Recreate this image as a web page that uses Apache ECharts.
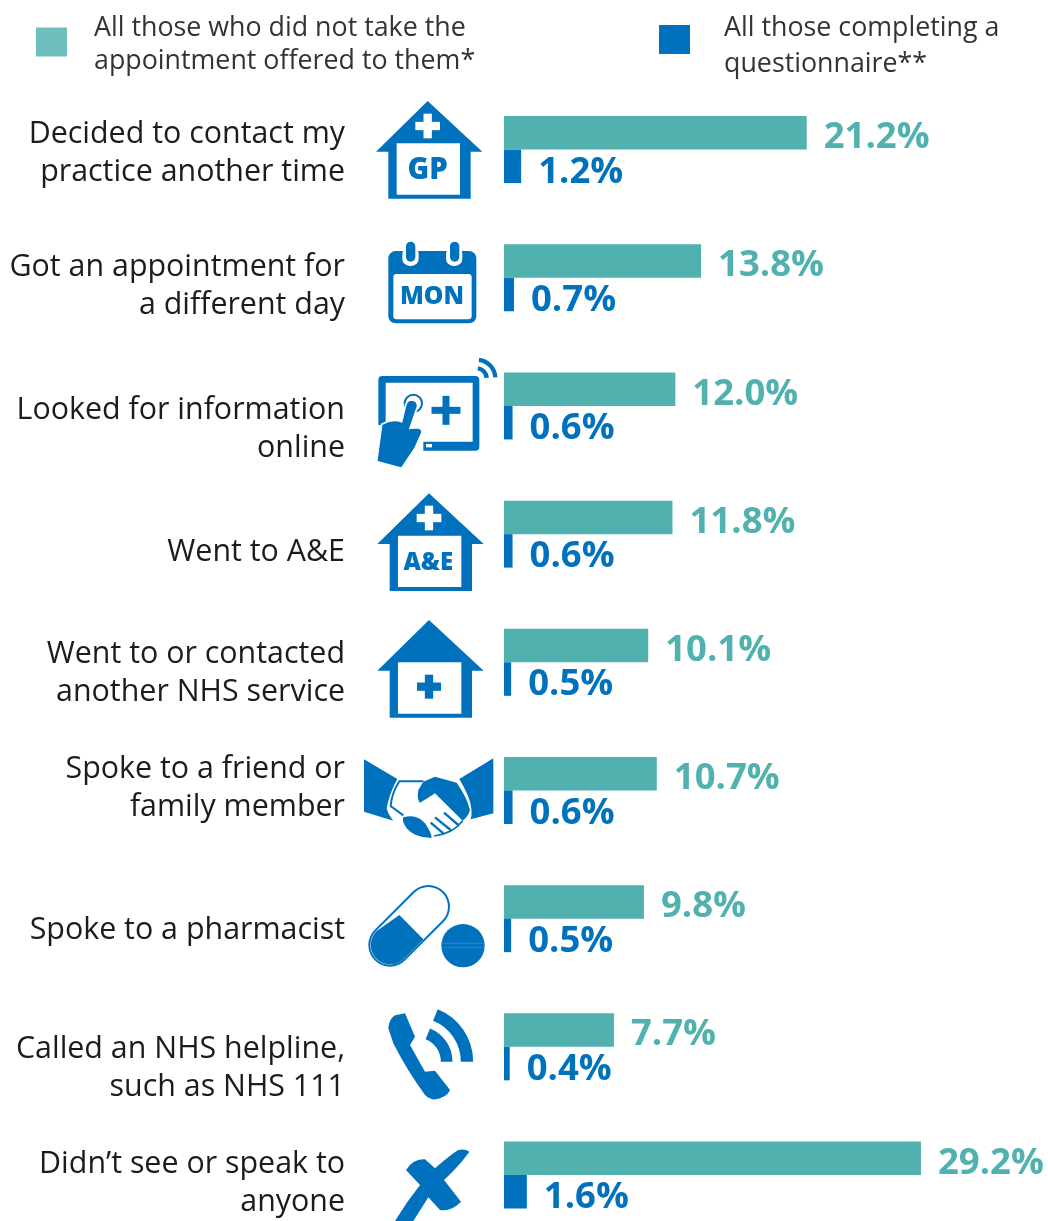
<!DOCTYPE html>
<html><head><meta charset="utf-8">
<style>html,body{margin:0;padding:0;background:#fff}#c{width:1048px;height:1221px}</style>
<script src="https://cdn.jsdelivr.net/npm/echarts@6/dist/echarts.min.js"></script>
</head><body><div id="c"></div>
<script>
const categories = [
 'Decided to contact my\npractice another time',
 'Got an appointment for\na different day',
 'Looked for information\nonline',
 'Went to A&E',
 'Went to or contacted\nanother NHS service',
 'Spoke to a friend or\nfamily member',
 'Spoke to a pharmacist',
 'Called an NHS helpline,\nsuch as NHS 111',
 'Didn\u2019t see or speak to\nanyone'
];
const declined = [21.2,13.8,12.0,11.8,10.1,10.7,9.8,7.7,29.2];
const allRespondents = [1.2,0.7,0.6,0.6,0.5,0.6,0.5,0.4,1.6];
const seriesNames = ['All those who did not take the appointment offered to them*','All those completing a questionnaire**'];
const legendText = ['All those who did not take the\nappointment offered to them*','All those completing a\nquestionnaire**'];
const labelShift = [3.5,8.5,23.5,18,11,-2,11.5,21.5,8];

const BLUE='#0071BC', TEAL='#50B1AF', LEG='#6FBFBF', INK='#1c1c1c';
const FONT='"Open Sans", "Noto Sans", sans-serif';
const LABEL_SIZE=30.4, LABEL_LH=38;

let pathCount=0;
function shapeOf(d){const n='icon'+(pathCount++);echarts.graphic.registerShape(n,echarts.graphic.extendPath(d,{}));return n;}
function p(d,fill,extra){return Object.assign({type:shapeOf(d),style:{fill:fill||BLUE}},extra||{});}
function ln(d,w,color,cap){return {type:shapeOf(d),style:{fill:'none',stroke:color||BLUE,lineWidth:w,lineCap:cap||'butt'}};}
function rr(x,y,w,h,r,fill){return {type:'rect',shape:{x,y,width:w,height:h,r},style:{fill:fill||BLUE}};}
function t(s,x,y,size,weight,family){return {type:'text',x,y,style:{text:s,fill:BLUE,font:(weight||800)+' '+size+'px '+(family||FONT),textAlign:'center',textVerticalAlign:'middle'}};}
function crossAt(cx,cy,span,th,fill){return [rr(cx-span/2,cy-th/2,span,th,0,fill),rr(cx-th/2,cy-span/2,th,span,0,fill)];}
function house(ax,ay){
 return [p(`M${ax},${ay} L${ax+164},${ay+152} L${ax+129},${ay+152} L${ax+129},${ay+293} L${ax-118},${ay+293} L${ax-118},${ay+152} L${ax-155},${ay+152} Z`),
   rr(ax-93,ay+127,190,154,0,'#fff')];
}
const A=[...house(203,33),...crossAt(203,108,74,25,'#fff'),t('GP',203,241,88,800),
 rr(85,483,264,217,22),rr(100,552,235,136,10,'#fff'),
 rr(127,470,49,58,22,'#fff'),rr(258,470,49,58,22,'#fff'),rr(138,455,28,60,14),rr(270,455,28,60,14),
 t('MON',216,620,74,800),
 rr(55,858,303,224,12),rr(77,878,261,177,0,'#fff'),...crossAt(258,961,87,21),rr(198,1062,18,10,0,'#fff'),
 {type:'arc',shape:{cx:350,cy:865,r:30,startAngle:-1.45,endAngle:-0.05},style:{fill:'none',stroke:BLUE,lineWidth:13}},
 {type:'arc',shape:{cx:350,cy:865,r:56,startAngle:-1.45,endAngle:-0.05},style:{fill:'none',stroke:BLUE,lineWidth:13}},
 rr(30,1005,160,80,0,'#fff'),
 {type:'circle',shape:{cx:160,cy:940,r:26},style:{fill:'#fff',stroke:BLUE,lineWidth:6}},
 p('M137,945 Q142,930 155,930 Q173,932 173,948 L150,1015 L170,1013 Q190,1015 185,1030 L165,1075 L125,1135 L50,1115 L65,1003 Q95,985 125,995 Z',BLUE,{style:{fill:BLUE,stroke:'#fff',lineWidth:5}})
];
const B=[...house(207,40),...crossAt(207,114,74,25,'#fff'),t('A&E',205,250,72,800),
 ...house(207,420),...crossAt(207,620,72,25),
 p('M12,838 L112,897 Q88,940 80,985 Q85,1005 100,1022 L12,995 Z'),
 p('M400,835 L400,1000 L332,1018 Q340,990 325,950 Q312,920 298,897 Z'),
 p('M190,905 L225,890 L290,908 Q320,950 330,990 Q325,1010 308,1022 L225,940 Q195,960 180,968 Q170,960 175,930 Z'),
 ln('M190,904 L118,904 Q95,940 92,978 L130,1006',6),
 ln('M225,1012 L272,1050',7),ln('M252,998 L295,1035',7),ln('M212,1028 L250,1060',7),
 ln('M222,1068 Q280,1060 308,1022',5),
 p('M130,1012 Q170,1000 195,1030 Q215,1060 215,1073 Q165,1075 140,1045 Q125,1025 130,1012 Z')
];
const C=[
 ln('M90,255 L205,140',130,BLUE,'round'),ln('M90,255 L205,140',118,'#fff','round'),
 p('M118,165 L190,238 L132,296 A58,58 0 0 1 49,214 Z'),
 {type:'circle',shape:{cx:309,cy:257,r:65},style:{fill:BLUE}},
 ln('M244,250 L374,250',1.5,'#4d9cd4'),ln('M244,262 L374,262',1.5,'#4d9cd4'),
 p('M85,505 Q88,475 105,466 L135,460 L165,530 L150,555 L195,635 L225,632 L270,690 Q265,705 240,715 Q215,725 195,705 Q140,630 100,550 Z'),
 {type:'arc',shape:{cx:170,cy:605,r:151,startAngle:-1.19,endAngle:0},style:{fill:'none',stroke:BLUE,lineWidth:37}},
 {type:'arc',shape:{cx:170,cy:605,r:90,startAngle:-1.19,endAngle:0},style:{fill:'none',stroke:BLUE,lineWidth:35}},
 p('M328,875 Q315,865 295,870 Q270,885 225,925 L195,898 Q160,895 138,930 L180,975 Q140,1025 105,1083 L160,1083 L205,1012 L240,1050 Q275,1055 303,1025 L252,960 Q300,915 328,875 Z')
];

// a blank spacer line above (or below) the text moves the block off its band centre
const base={fontFamily:FONT,fontSize:LABEL_SIZE,lineHeight:LABEL_LH,color:INK};
const rich={n:base};
labelShift.forEach((s,i)=>{rich['g'+i]={fontSize:1,lineHeight:Math.abs(s)*2,color:'transparent'};});
function richLabel(value,index){
 const s=labelShift[index];
 const body=value.split('\n').map(l=>'{n|'+l+'}').join('\n');
 const gap='{g'+index+'| }';
 return s>=0?gap+'\n'+body:body+'\n'+gap;
}
function legendRich(text){return '{g| }\n'+text.split('\n').map(l=>'{n|'+l+'}').join('\n');}
const legendFont={fontFamily:FONT,fontSize:26.8,color:'#333'};

const chart=echarts.init(document.getElementById('c'),null,{renderer:'canvas'});
const labelOpt=(c,dy)=>({show:true,position:'right',distance:17,offset:[0,dy],color:c,fontFamily:FONT,fontWeight:700,fontSize:36.5,formatter:v=>v.value.toFixed(1)+'%'});
chart.setOption({
 animation:false,
 backgroundColor:'#fff',
 grid:{left:504,top:149.6,width:542.6,height:1029},
 legend:[
  {left:36,top:8.5,padding:0,orient:'vertical',icon:'rect',itemWidth:31,itemHeight:29,selectedMode:false,
   data:[{name:seriesNames[0],itemStyle:{color:LEG}}],
   formatter:()=>legendRich(legendText[0]),
   textStyle:{...legendFont,padding:[0,0,0,22],rich:{g:{fontSize:1,lineHeight:6,color:'transparent'},n:{...legendFont,lineHeight:33}}}},
  {left:659,top:3,padding:0,orient:'vertical',icon:'rect',itemWidth:31,itemHeight:29,selectedMode:false,
   data:[{name:seriesNames[1],itemStyle:{color:BLUE}}],
   formatter:()=>legendRich(legendText[1]),
   textStyle:{...legendFont,padding:[0,0,0,29],rich:{g:{fontSize:1,lineHeight:14,color:'transparent'},n:{...legendFont,lineHeight:36}}}}
 ],
 xAxis:{type:'value',min:0,max:38,show:false},
 yAxis:{type:'category',inverse:true,boundaryGap:false,data:categories,
  axisLine:{show:false},axisTick:{show:false},splitLine:{show:false},
  axisLabel:{interval:0,margin:159,align:'right',fontFamily:FONT,fontSize:LABEL_SIZE,lineHeight:LABEL_LH,color:INK,formatter:richLabel,rich}},
 series:[
  {name:seriesNames[0],type:'bar',clip:false,data:declined,barWidth:33.5,barGap:0,itemStyle:{color:TEAL},label:labelOpt(TEAL,5)},
  {name:seriesNames[1],type:'bar',clip:false,data:allRespondents,barWidth:33.5,barGap:0,itemStyle:{color:BLUE},label:labelOpt(BLUE,6)}
 ],
 graphic:[
  {type:'group',x:360,y:90,scaleX:1/3,scaleY:1/3,silent:true,children:A},
  {type:'group',x:360,y:480,scaleX:1/3,scaleY:1/3,silent:true,children:B},
  {type:'group',x:360,y:860,scaleX:1/3,scaleY:1/3,silent:true,children:C}
 ]
});
</script></body></html>
